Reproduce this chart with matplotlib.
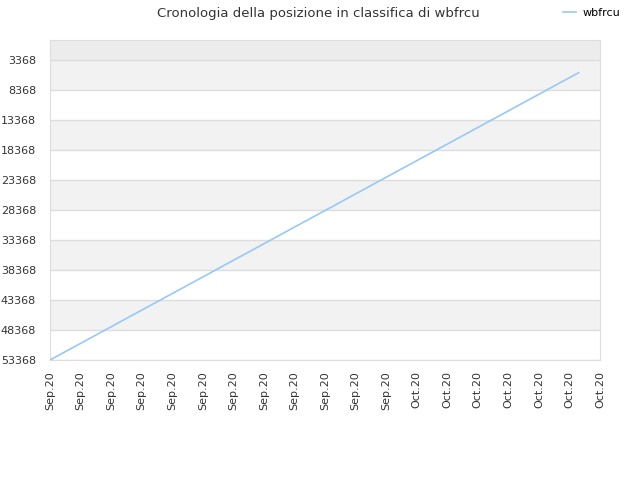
import matplotlib.pyplot as plt

# data
days = [0, 1, 2, 3, 4, 5, 6, 7, 8, 9, 10, 11, 12, 13, 14, 15, 16, 17, 17.3]
rank = [53368, 50600, 47830, 45060, 42300, 39530, 36760, 34000, 31220,
        28460, 25690, 22920, 20150, 17390, 14620, 11850, 9080, 6310, 5485]
tick_labels = ['Sep.20'] * 12 + ['Oct.20'] * 7
y_ticks = [3368 + 5000 * i for i in range(11)]

fig = plt.figure(figsize=(6.4, 4.8), dpi=100)
ax = fig.add_axes([50 / 640, 1 - 360 / 480, 550 / 640, 320 / 480])

y_top = 35
y_bottom = 53368
ax.set_ylim(y_bottom, y_top)
ax.set_xlim(0, 18)

# background bands
ax.axhspan(y_top, y_ticks[0], color='#ececec', zorder=0, lw=0)
for i in range(len(y_ticks) - 1):
    c = '#f2f2f2' if i % 2 == 0 else '#ffffff'
    ax.axhspan(y_ticks[i], y_ticks[i + 1], color=c, zorder=0, lw=0)
for v in y_ticks:
    ax.axhline(v, color='#dddddd', lw=1, zorder=1)

ax.plot(days, rank, color='#99c8f5', lw=1.2, label='wbfrcu', zorder=3)

ax.set_yticks(y_ticks)
ax.set_yticklabels([str(v) for v in y_ticks])
ax.set_xticks(range(19))
ax.set_xticklabels(tick_labels, rotation=90)
ax.tick_params(length=0, labelsize=8, labelcolor='#333333')
ax.tick_params(axis='x', pad=8)
ax.tick_params(axis='y', pad=10)
for s in ax.spines.values():
    s.set_color('#dddddd')

fig.suptitle('Cronologia della posizione in classifica di wbfrcu', x=0.497, y=0.985,
             fontsize=9.5, color='#333333')
fig.legend(loc='upper right', bbox_to_anchor=(0.985, 1.005), frameon=False, fontsize=8,
           handlelength=1.2, handletextpad=0.6)

fig.savefig('out.png', dpi=100)
